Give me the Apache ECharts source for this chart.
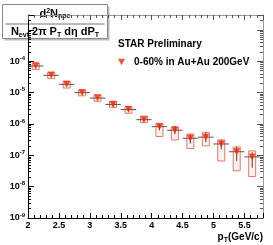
<!DOCTYPE html>
<html><head><meta charset="utf-8">
<script src="https://cdn.jsdelivr.net/npm/echarts@6/dist/echarts.min.js"></script>
<style>html,body{margin:0;padding:0;background:#fff}#c{width:273px;height:245px}</style>
</head><body><div id="c"></div>
<script>
var pt       = [2.125, 2.375, 2.625, 2.875, 3.125, 3.375, 3.625, 3.875, 4.125, 4.375, 4.625, 4.875, 5.125, 5.375, 5.625];
var yieldVal = [7.1e-5, 3.57e-5, 1.84e-5, 1.0e-5, 6.7e-6, 4.2e-6, 2.9e-6, 1.37e-6, 8.2e-7, 6.3e-7, 3.5e-7, 3.8e-7, 2.3e-7, 1.3e-7, 8.9e-8];
var statHigh = [7.6e-5, 3.8e-5, 1.97e-5, 1.08e-5, 7.2e-6, 4.6e-6, 3.2e-6, 1.52e-6, 9.8e-7, 8.7e-7, 4.7e-7, 5.4e-7, 3.0e-7, 1.9e-7, 1.26e-7];
var statLow  = [6.6e-5, 3.35e-5, 1.72e-5, 9.3e-6, 6.2e-6, 3.85e-6, 2.6e-6, 1.22e-6, 6.2e-7, 4.7e-7, 2.4e-7, 2.6e-7, 1.55e-7, 6.5e-8, 4.0e-8];
var sysHigh  = [8.9e-5, 4.5e-5, 2.3e-5, 1.23e-5, 8.5e-6, 5.3e-6, 3.6e-6, 1.78e-6, 1.05e-6, 8.1e-7, 4.8e-7, 5.4e-7, 3.1e-7, 1.85e-7, 1.38e-7];
var sysLow   = [5.5e-5, 2.8e-5, 1.4e-5, 7.9e-6, 5.3e-6, 3.4e-6, 2.2e-6, 1.1e-6, 4.0e-7, 3.1e-7, 1.65e-7, 2.0e-7, 6.6e-8, 3.2e-8, 2.1e-8];
var binHalfWidth = 0.125;
var xTickLabels = ['2', '2.5', '3', '3.5', '4', '4.5', '5', '5.5'];
var seriesName = '0-60% in Au+Au 200GeV';

var FONT = '"Liberation Sans", Arial, sans-serif';
var chart = echarts.init(document.getElementById('c'), null, {renderer: 'canvas'});

var errData = pt.map(function (x, i) {
  return [x, yieldVal[i], statLow[i], statHigh[i], sysLow[i], sysHigh[i]];
});
var ptsData = pt.map(function (x, i) { return [x, yieldVal[i]]; });

function yFmt(v) {
  var l = Math.log10(v), e = Math.round(l);
  if (Math.abs(l - e) > 1e-6 || e > -4) return '';
  return '{b|10}{s|' + e + '}';
}

var option = {
  animation: false,
  backgroundColor: '#fff',
  grid: {left: 28, right: 10, top: 15, bottom: 27, containLabel: false},
  title: {
    text: 'STAR Preliminary', left: 118, top: 39, padding: 0,
    textStyle: {fontFamily: FONT, fontSize: 10, fontWeight: 'bold', color: '#000'}
  },
  legend: {
    left: 118, top: 57, padding: 0, itemWidth: 7, itemHeight: 7, itemGap: 4,
    data: [{name: seriesName, icon: 'path://M0,0L10,0L5,9Z'}],
    textStyle: {fontFamily: FONT, fontSize: 10, fontWeight: 'bold', color: '#000', padding: [0, 0, 0, 4]}
  },
  xAxis: [{
    type: 'value', min: 2, max: 5.8, interval: 0.5,
    name: '{p|p}{sub|T}{p|(GeV/c)}', nameLocation: 'end', nameGap: 0,
    nameTextStyle: {
      align: 'right', verticalAlign: 'top', padding: [13, 0, 0, 0],
      rich: {
        p: {fontFamily: FONT, fontSize: 10, fontWeight: 'bold', color: '#000'},
        sub: {fontFamily: FONT, fontSize: 7, fontWeight: 'bold', color: '#000', padding: [6, 0, 0, 0]}
      }
    },
    axisLine: {lineStyle: {color: '#000', width: 1}},
    axisTick: {inside: true, length: 5, lineStyle: {color: '#000'}},
    minorTick: {show: true, splitNumber: 5, length: 3, lineStyle: {color: '#000'}},
    splitLine: {show: false},
    axisLabel: {
      showMaxLabel: false, margin: 3,
      fontFamily: FONT, fontSize: 9, fontWeight: 'bold', color: '#000',
      formatter: function (v) {
        var s = String(Math.round(v * 10) / 10);
        return xTickLabels.indexOf(s) >= 0 ? s : '';
      }
    }
  }, {
    type: 'value', min: 2, max: 5.8, interval: 0.5, position: 'top',
    axisLine: {lineStyle: {color: '#999', width: 1}},
    axisTick: {inside: true, length: 5, lineStyle: {color: '#555'}},
    minorTick: {show: true, splitNumber: 5, length: 3, lineStyle: {color: '#555'}},
    splitLine: {show: false}, axisLabel: {show: false}
  }],
  yAxis: [{
    type: 'log', min: 1e-9, max: 3e-3, logBase: 10,
    axisLine: {show: true, lineStyle: {color: '#000', width: 1}},
    axisTick: {inside: true, length: 6, lineStyle: {color: '#000'}},
    minorTick: {show: true, splitNumber: 9, length: 3, lineStyle: {color: '#000'}},
    splitLine: {show: false},
    axisLabel: {
      showMaxLabel: false, margin: 3, formatter: yFmt,
      rich: {
        b: {fontFamily: FONT, fontSize: 9, fontWeight: 'bold', color: '#000'},
        s: {fontFamily: FONT, fontSize: 6, fontWeight: 'bold', color: '#000', padding: [0, 0, 6, 0]}
      }
    }
  }, {
    type: 'log', min: 1e-9, max: 3e-3, logBase: 10, position: 'right',
    axisLine: {show: true, lineStyle: {color: '#999', width: 1}},
    axisTick: {inside: true, length: 6, lineStyle: {color: '#555'}},
    minorTick: {show: true, splitNumber: 9, length: 3, lineStyle: {color: '#555'}},
    splitLine: {show: false}, axisLabel: {show: false}
  }],
  series: [{
    type: 'custom', name: 'errors', silent: true, z: 2,
    data: errData,
    renderItem: function (params, api) {
      var x = api.value(0), y = api.value(1);
      var c = api.coord([x, y]);
      var l = api.coord([x - binHalfWidth, y]);
      var r = api.coord([x + binHalfWidth, y]);
      var st = api.coord([x, api.value(3)]);
      var sb = api.coord([x, api.value(2)]);
      var yt = api.coord([x, api.value(5)])[1];
      var yb = api.coord([x, api.value(4)])[1];
      return {
        type: 'group',
        children: [
          {type: 'rect', shape: {x: c[0] - 3.5, y: yt, width: 7, height: yb - yt},
           style: {fill: 'rgba(240,160,140,0.15)', stroke: '#e07a68', lineWidth: 1}},
          {type: 'line', shape: {x1: l[0], y1: c[1], x2: r[0], y2: c[1]},
           style: {stroke: '#555', lineWidth: 1}},
          {type: 'line', shape: {x1: c[0], y1: st[1], x2: c[0], y2: sb[1]},
           style: {stroke: '#444', lineWidth: 1}}
        ]
      };
    }
  }, {
    type: 'scatter', name: seriesName, z: 3,
    data: ptsData, symbol: 'triangle', symbolRotate: 180, symbolSize: 7,
    itemStyle: {color: '#ff2200'}
  }],
  graphic: [{
    type: 'group', left: 2, top: 4, z: 100,
    children: [
      {type: 'rect', shape: {x: 2, y: 2, width: 105, height: 34}, style: {fill: '#bbb'}},
      {type: 'rect', shape: {x: 0, y: 0, width: 105, height: 34}, style: {fill: '#fff', stroke: '#888', lineWidth: 1}},
      {type: 'line', shape: {x1: 3, y1: 19.5, x2: 102, y2: 19.5}, style: {stroke: '#777', lineWidth: 1}},
      {type: 'text', x: 52.5, y: 9.5, style: {
        text: '{n|d}{sup|2}{n|N}{sub|npe}', align: 'center', verticalAlign: 'middle',
        rich: {
          n: {fontFamily: FONT, fontSize: 11, fontWeight: 'bold', fill: '#000'},
          sup: {fontFamily: FONT, fontSize: 7, fontWeight: 'bold', fill: '#000', padding: [0, 0, 6, 0]},
          sub: {fontFamily: FONT, fontSize: 7, fontWeight: 'bold', fill: '#000', padding: [5, 0, 0, 0]}
        }}},
      {type: 'text', x: 52.5, y: 27.5, style: {
        text: '{n|N}{sub|evt}{n| 2π P}{sub|T}{n| dη dP}{sub|T}', align: 'center', verticalAlign: 'middle',
        rich: {
          n: {fontFamily: FONT, fontSize: 11, fontWeight: 'bold', fill: '#000'},
          sub: {fontFamily: FONT, fontSize: 7, fontWeight: 'bold', fill: '#000', padding: [6, 0, 0, 0]}
        }}}
    ]
  }]
};
chart.setOption(option);
</script></body></html>
